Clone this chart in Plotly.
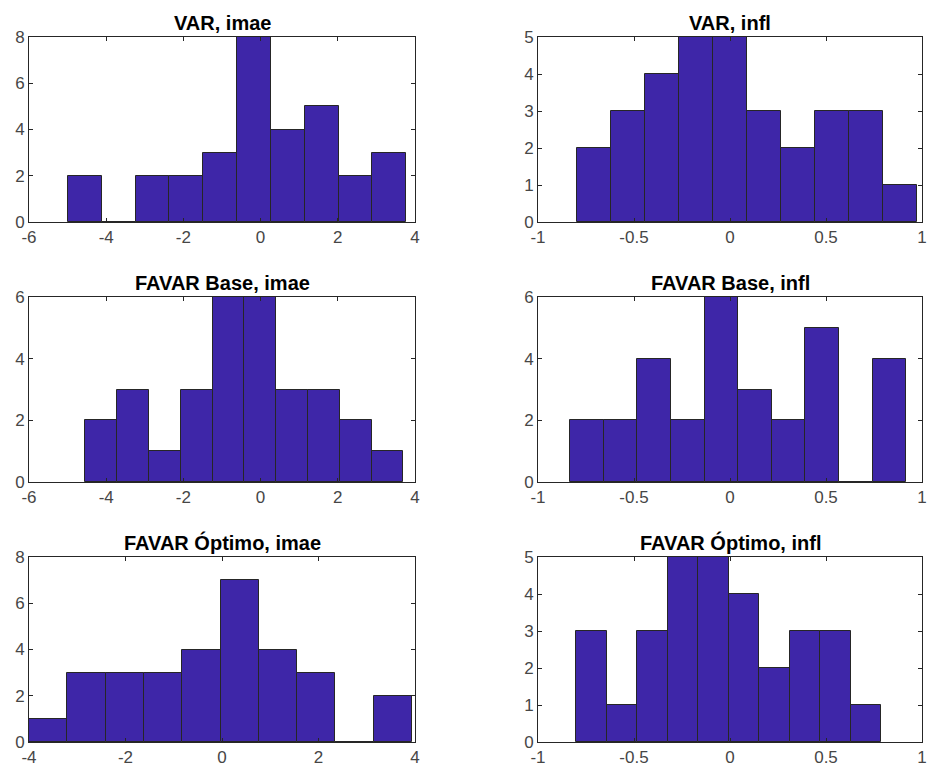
import plotly.graph_objects as go

# ---- data ----
titles = ["VAR, imae", "VAR, infl",
          "FAVAR Base, imae", "FAVAR Base, infl",
          "FAVAR Óptimo, imae", "FAVAR Óptimo, infl"]

var_imae_counts = [2, 0, 2, 2, 3, 8, 4, 5, 2, 3]
var_imae_start, var_imae_width = -4.988, 0.8758

var_infl_counts = [2, 3, 4, 5, 5, 3, 2, 3, 3, 1]
var_infl_start, var_infl_width = -0.795, 0.1767

base_imae_counts = [2, 3, 1, 3, 6, 6, 3, 3, 2, 1]
base_imae_start, base_imae_width = -4.538, 0.8235

base_infl_counts = [2, 2, 4, 2, 6, 3, 2, 5, 0, 4]
base_infl_start, base_infl_width = -0.832, 0.175

opt_imae_counts = [1, 3, 3, 3, 4, 7, 4, 3, 0, 2]
opt_imae_start, opt_imae_width = -4.0, 0.7938

opt_infl_counts = [3, 1, 3, 5, 5, 4, 2, 3, 3, 1]
opt_infl_start, opt_infl_width = -0.802, 0.159

imae_xticks = [-6, -4, -2, 0, 2, 4]
imae_xticklabels = ["-6", "-4", "-2", "0", "2", "4"]
opt_imae_xticks = [-4, -2, 0, 2, 4]
opt_imae_xticklabels = ["-4", "-2", "0", "2", "4"]
infl_xticks = [-1, -0.5, 0, 0.5, 1]
infl_xticklabels = ["-1", "-0.5", "0", "0.5", "1"]

panels = [
    (var_imae_counts, var_imae_start, var_imae_width, [-6, 4], imae_xticks, imae_xticklabels, [0, 8], [0, 2, 4, 6, 8]),
    (var_infl_counts, var_infl_start, var_infl_width, [-1, 1], infl_xticks, infl_xticklabels, [0, 5], [0, 1, 2, 3, 4, 5]),
    (base_imae_counts, base_imae_start, base_imae_width, [-6, 4], imae_xticks, imae_xticklabels, [0, 6], [0, 2, 4, 6]),
    (base_infl_counts, base_infl_start, base_infl_width, [-1, 1], infl_xticks, infl_xticklabels, [0, 6], [0, 2, 4, 6]),
    (opt_imae_counts, opt_imae_start, opt_imae_width, [-4, 4], opt_imae_xticks, opt_imae_xticklabels, [0, 8], [0, 2, 4, 6, 8]),
    (opt_infl_counts, opt_infl_start, opt_infl_width, [-1, 1], infl_xticks, infl_xticklabels, [0, 5], [0, 1, 2, 3, 4, 5]),
]

W, H = 930, 771
col_dom = [[29 / W, 415 / W], [538 / W, 922 / W]]
row_px = [(37, 222), (297, 482), (557, 742)]
row_dom = [[1 - b / H, 1 - t / H] for t, b in row_px]

FACE = "rgb(62,38,168)"
EDGE = "rgb(38,38,38)"
AX = "rgb(38,38,38)"
TICKC = "rgb(70,70,70)"
FONT = "Liberation Sans, Arial, Helvetica, sans-serif"

fig = go.Figure()
layout = {}
annotations = []
for i, (counts, start, width, xr, xt, xtl, yr, yt) in enumerate(panels):
    n = i + 1
    r, c = divmod(i, 2)
    centers = [start + width * (k + 0.5) for k in range(len(counts))]
    sfx = "" if n == 1 else str(n)
    fig.add_trace(go.Bar(
        x=centers, y=counts, width=[width] * len(counts),
        marker=dict(color=FACE, line=dict(color=EDGE, width=1)),
        xaxis="x" + sfx, yaxis="y" + sfx, showlegend=False,
        hoverinfo="x+y",
    ))
    common = dict(showline=True, linecolor=AX, linewidth=1, mirror="allticks",
                  ticks="inside", ticklen=4, tickcolor=AX, tickwidth=1,
                  showgrid=False, zeroline=False, automargin=False,
                  tickfont=dict(family=FONT, size=17, color=TICKC))
    xa = dict(common, domain=col_dom[c], range=xr, tickmode="array", tickvals=xt,
              ticktext=xtl, anchor="y" + sfx)
    ya = dict(common, domain=row_dom[r], range=yr, tickmode="array", tickvals=yt,
              anchor="x" + sfx)
    layout["xaxis" + sfx] = xa
    layout["yaxis" + sfx] = ya
    annotations.append(dict(
        text="<b>" + titles[i] + "</b>", x=sum(col_dom[c]) / 2, y=row_dom[r][1],
        xref="paper", yref="paper", xanchor="center", yanchor="bottom",
        yshift=1, showarrow=False,
        font=dict(family=FONT, size=20, color="black")))

fig.update_layout(**layout)
fig.update_layout(
    width=W, height=H, margin=dict(l=0, r=0, t=0, b=0),
    paper_bgcolor="white", plot_bgcolor="white",
    annotations=annotations, bargap=0,
)
fig.write_html("out.html", config={"displayModeBar": False},
               post_script="document.body.style.margin='0px';document.body.style.overflow='hidden';")
